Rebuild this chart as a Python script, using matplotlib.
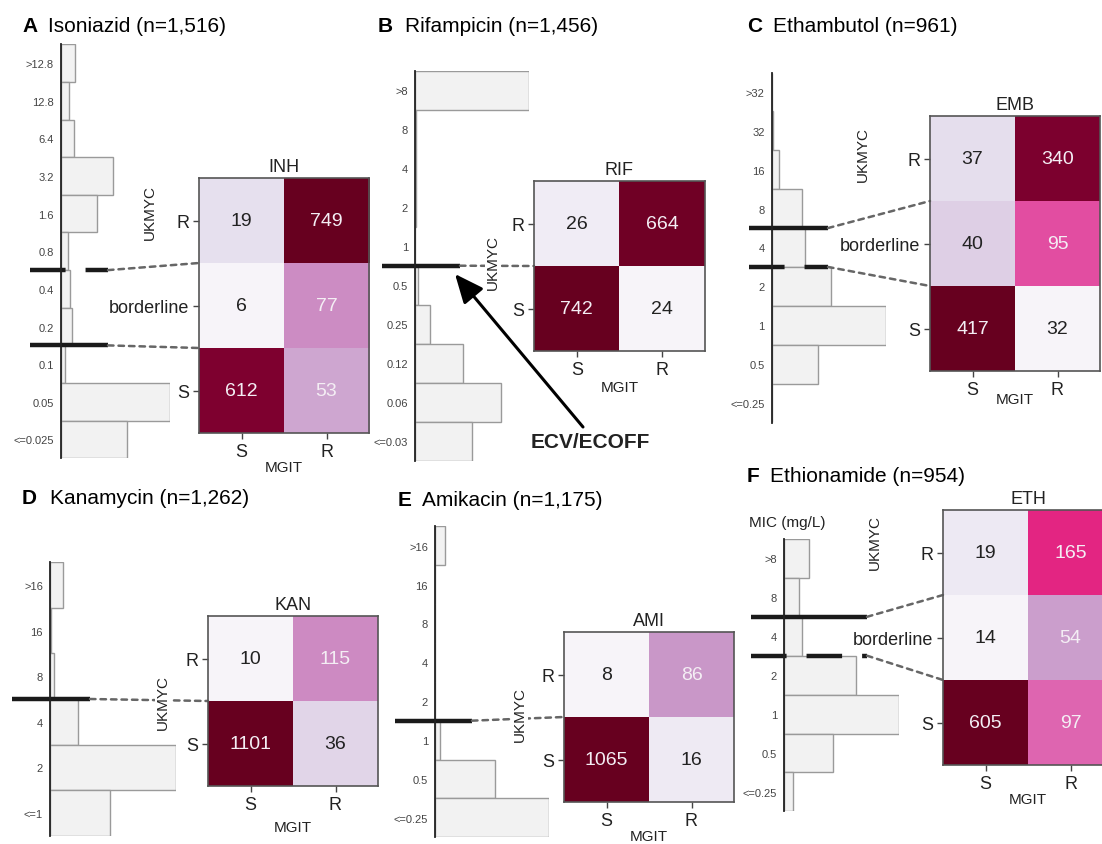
#!/usr/bin/env python3
# -*- coding: utf-8 -*-

import numpy as np
import matplotlib
matplotlib.use("Agg")
import matplotlib.pyplot as plt
from matplotlib.colors import FuncNorm
from matplotlib.patches import ConnectionPatch
from matplotlib.transforms import blended_transform_factory

plt.rcParams['font.family'] = ['Liberation Sans', 'DejaVu Sans']

# --- data -------------------------------------------------------------------
three_rows = ['R', 'borderline', 'S']
two_rows = ['R', 'S']
mgit_cols = ['S', 'R']

inh_mic = ['>12.8', '12.8', '6.4', '3.2', '1.6', '0.8', '0.4', '0.2', '0.1', '0.05', '<=0.025']
inh_counts = [64, 40, 61, 240, 164, 35, 42, 50, 20, 497, 303]
inh_matrix = [[19, 749], [6, 77], [612, 53]]

rif_mic = ['>8', '8', '4', '2', '1', '0.5', '0.25', '0.12', '0.06', '<=0.03']
rif_counts = [510, 3, 3, 3, 2, 15, 67, 215, 384, 254]
rif_matrix = [[26, 664], [742, 24]]

emb_mic = ['>32', '32', '16', '8', '4', '2', '1', '0.5', '<=0.25']
emb_counts = [1, 5, 25, 98, 110, 194, 373, 153, 2]
emb_matrix = [[37, 340], [40, 95], [417, 32]]

kan_mic = ['>16', '16', '8', '4', '2', '<=1']
kan_counts = [69, 4, 22, 154, 685, 328]
kan_matrix = [[10, 115], [1101, 36]]

ami_mic = ['>16', '16', '8', '4', '2', '1', '0.5', '<=0.25']
ami_counts = [62, 3, 0, 0, 3, 31, 370, 706]
ami_matrix = [[8, 86], [1065, 16]]

eth_mic = ['>8', '8', '4', '2', '1', '0.5', '<=0.25']
eth_counts = [80, 48, 56, 226, 362, 153, 29]
eth_matrix = [[19, 165], [14, 54], [605, 97]]

# ECOFF cut lines: (bin just below the line, line style)
inh_cuts = [('0.4', '--'), ('0.1', '-')]
rif_cuts = [('0.5', '-')]
emb_cuts = [('4', '-'), ('2', '--')]
kan_cuts = [('4', '-')]
ami_cuts = [('1', '-')]
eth_cuts = [('4', '-'), ('2', '--')]

# --- layout (pixels) --------------------------------------------------------
W, H = 1102, 845

panels = [
    dict(letter='A', name='Isoniazid (n=1,516)', drug='INH', mic=inh_mic, counts=inh_counts,
         matrix=inh_matrix, rows=three_rows, cuts=inh_cuts, gamma=1.45,
         title=(22, 48, 32), hist=(60.7, 45.3, 170, 459.3), heat=(199, 179, 369, 434),
         cutx=(30, 108), ukmyc=(150, 213), pad=0),
    dict(letter='B', name='Rifampicin (n=1,456)', drug='RIF', mic=rif_mic, counts=rif_counts,
         matrix=rif_matrix, rows=two_rows, cuts=rif_cuts, gamma=0.8,
         title=(378, 405, 32), hist=(415, 71.7, 529.3, 461.7), heat=(534, 182, 705, 352),
         cutx=(382, 460), ukmyc=(493, 263), pad=2),
    dict(letter='C', name='Ethambutol (n=961)', drug='EMB', mic=emb_mic, counts=emb_counts,
         matrix=emb_matrix, rows=three_rows, cuts=emb_cuts, gamma=0.7,
         title=(747, 773, 32), hist=(771.7, 73.5, 885.7, 423.5), heat=(930, 117, 1100, 372),
         cutx=(749, 828), ukmyc=(863, 155), pad=-4),
    dict(letter='D', name='Kanamycin (n=1,262)', drug='KAN', mic=kan_mic, counts=kan_counts,
         matrix=kan_matrix, rows=two_rows, cuts=kan_cuts, gamma=1.4,
         title=(22, 50, 504), hist=(50, 563.3, 175.7, 836.7), heat=(208, 617, 378, 787),
         cutx=(12, 90), ukmyc=(163, 703), pad=5),
    dict(letter='E', name='Amikacin (n=1,175)', drug='AMI', mic=ami_mic, counts=ami_counts,
         matrix=ami_matrix, rows=two_rows, cuts=ami_cuts, gamma=1.4,
         title=(398, 422, 506), hist=(435, 527.3, 549.3, 838.3), heat=(564, 633, 734, 803),
         cutx=(395, 472), ukmyc=(520, 715), pad=0),
    dict(letter='F', name='Ethionamide (n=954)', drug='ETH', mic=eth_mic, counts=eth_counts,
         matrix=eth_matrix, rows=three_rows, cuts=eth_cuts, gamma=1.05,
         title=(747, 770, 482), hist=(784, 540, 899, 812.3), heat=(943, 511, 1113, 766),
         cutx=(751, 867), ukmyc=(875, 543), pad=0),
]


def px_rect(x0, y0, x1, y1):
    return [x0 / W, 1 - y1 / H, (x1 - x0) / W, (y1 - y0) / H]


def log_gamma_norm(vmin, vmax, gamma):
    # log scale between the panel min and max, bent by a gamma
    lo = np.log10(vmin)

    def fwd(x):
        return np.clip(np.log10(x) - lo, 0, None) ** gamma

    def inv(y):
        return 10 ** (np.asarray(y) ** (1 / gamma) + lo)

    return FuncNorm((fwd, inv), vmin=vmin, vmax=vmax)


def draw_hist(fig, p):
    x0, y0, x1, y1 = p['hist']
    ax = fig.add_axes(px_rect(x0, y0, x1, y1))
    y = np.arange(len(p['mic']))
    ax.barh(y, p['counts'], height=1.0, color='#f2f2f2', edgecolor='#9a9a9a', linewidth=1)
    ax.set_xlim(0, max(p['counts']))
    ax.set_ylim(len(y) - 0.5, -0.5)
    ax.set_yticks(y)
    ax.set_yticklabels(p['mic'], fontsize=8, color='#444444')
    ax.tick_params(axis='y', length=0, pad=5)
    ax.set_xticks([])
    for s in ['top', 'right', 'bottom']:
        ax.spines[s].set_visible(False)
    ax.spines['left'].set_linewidth(1.3)
    ax.spines['left'].set_color('#222222')
    ax.patch.set_visible(False)
    return ax


def draw_heat(fig, p):
    x0, y0, x1, y1 = p['heat']
    ax = fig.add_axes(px_rect(x0, y0, x1, y1))
    vals = np.array(p['matrix'])
    norm = log_gamma_norm(vals.min(), vals.max(), p['gamma'])
    ax.imshow(vals, cmap='PuRd', norm=norm, aspect='auto')
    for i in range(vals.shape[0]):
        for j in range(vals.shape[1]):
            v = vals[i, j]
            c = '#f4eef4' if norm(v) > 0.28 else '#222222'
            ax.text(j, i, str(v), ha='center', va='center', fontsize=14, color=c)
    ax.set_xticks(range(len(mgit_cols)))
    ax.set_xticklabels(mgit_cols, fontsize=13, color='#222222')
    ax.set_yticks(range(len(p['rows'])))
    ax.set_yticklabels(p['rows'], fontsize=13, color='#222222')
    ax.tick_params(length=4, width=1, color='#444444', pad=3)
    for s in ax.spines.values():
        s.set_color('#555555')
        s.set_linewidth(1.2)
    ax.set_title(p['drug'], fontsize=13, pad=5, color='#222222')
    ax.set_xlabel('MGIT', fontsize=11, labelpad=p['pad'], color='#222222')
    ax.set_ylabel('UKMYC', fontsize=11, color='#222222',
                  bbox=dict(facecolor='white', edgecolor='none', pad=1))
    ux, uy = p['ukmyc']
    ax.yaxis.set_label_coords((ux - x0) / (x1 - x0), 1 - (uy - y0) / (y1 - y0))
    ax.yaxis.label.set_va('center')
    return ax


fig = plt.figure(figsize=(W / 100, H / 100), dpi=100)

for p in panels:
    ax_h = draw_hist(fig, p)
    ax_m = draw_heat(fig, p)
    hx0, hy0, hx1, hy1 = p['hist']
    tr_h = blended_transform_factory(ax_h.transAxes, ax_h.transData)
    tr_m = blended_transform_factory(ax_m.transAxes, ax_m.transData)
    xa0 = (p['cutx'][0] - hx0) / (hx1 - hx0)
    xa1 = (p['cutx'][1] - hx0) / (hx1 - hx0)
    for k, (label, style) in enumerate(p['cuts']):
        yb = p['mic'].index(label) - 0.5
        ls = '-' if style == '-' else (0, (8.0, 4.5))
        ax_h.plot([xa0, xa1], [yb, yb], transform=tr_h, clip_on=False,
                  lw=3.2, color='#1a1a1a', ls=ls, solid_capstyle='butt', dash_capstyle='butt')
        con = ConnectionPatch(xyA=(xa1, yb), coordsA=tr_h, xyB=(0, k + 0.5), coordsB=tr_m,
                              color='#666666', lw=1.8, linestyle=(0, (2.2, 2.0)), clip_on=False)
        ax_m.add_artist(con)

# overlay for panel titles and annotations
ov = fig.add_axes([0, 0, 1, 1])
ov.set_xlim(0, W)
ov.set_ylim(H, 0)
ov.axis('off')

for p in panels:
    lx, nx, by = p['title']
    ov.text(lx, by, p['letter'], fontsize=15, fontweight='bold', va='baseline', ha='left')
    ov.text(nx, by, p['name'], fontsize=15, va='baseline', ha='left')

ov.text(749, 527, 'MIC (mg/L)', fontsize=11, va='baseline', ha='left', color='#222222')

ov.annotate('', xy=(455, 275), xytext=(583, 428),
            arrowprops=dict(arrowstyle='-|>,head_length=0.8,head_width=0.35', lw=2.2,
                            color='black', mutation_scale=22, shrinkA=0, shrinkB=0))
ov.text(590, 443, 'ECV/ECOFF', fontsize=15, fontweight='bold', ha='center', va='center',
        color='#222222')

plt.savefig('out.png', dpi=100)
